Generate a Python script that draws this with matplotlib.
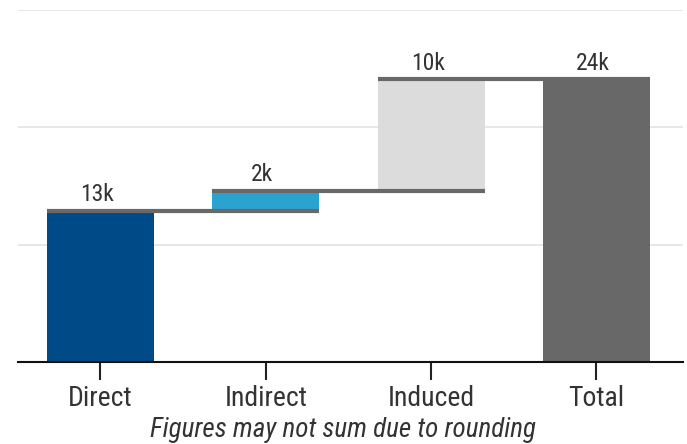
import matplotlib
matplotlib.use("Agg")
import matplotlib.pyplot as plt
import numpy as np

categories = ["Direct", "Indirect", "Induced", "Total"]
values = [12.9, 1.7, 9.5]          # thousands
labels = ["13k", "2k", "10k", "24k"]
colors = ["#004b87", "#2ba3d1", "#dcdcdc", "#686868"]

plt.rcParams['font.family'] = ['Roboto Condensed', 'Liberation Sans Narrow', 'Roboto', 'DejaVu Sans']

total = sum(values)
cum = np.cumsum(values)
bottoms = [0, cum[0], cum[1], 0]
heights = [values[0], values[1], values[2], total]
tops = [cum[0], cum[1], cum[2], total]

fig = plt.figure(figsize=(6.87, 4.44), dpi=100)
ax = fig.add_axes([18/687, (444-362)/444, (683-18)/687, (362-10)/444])

w = 0.647
x = np.arange(len(categories))
ax.bar(x, heights, bottom=bottoms, width=w, color=colors, zorder=2)

for i in range(3):
    ax.plot([i - w/2, i + 1 + w/2], [cum[i], cum[i]], color="#686868", lw=3, zorder=3,
            solid_capstyle="butt")

for i in range(4):
    ax.text(x[i] - 0.02, tops[i] + 0.8, labels[i], ha="center", va="baseline",
            fontsize=17, color="#333333")

ax.set_ylim(0, 30)
ax.set_xlim(-0.499, 3.524)
ax.set_yticks([10, 20, 30])
ax.yaxis.grid(True, color="#e3e3e3", lw=1.2, zorder=0)
ax.tick_params(axis="y", length=0, labelleft=False)
ax.set_xticks(x)
ax.set_xticklabels(categories, fontsize=20, color="#333333")
ax.tick_params(axis="x", length=13, width=1.5, color="#222222", pad=3.5)
for s in ["top", "right", "left"]:
    ax.spines[s].set_visible(False)
ax.spines["bottom"].set_linewidth(1.5)
ax.spines["bottom"].set_color("#111111")
ax.set_axisbelow(True)

fig.text(0.5, 1 - 430/444, "Figures may not sum due to rounding", ha="center", va="center",
         fontsize=19.5, style="italic", color="#333333")

fig.savefig("out.png", dpi=100)
